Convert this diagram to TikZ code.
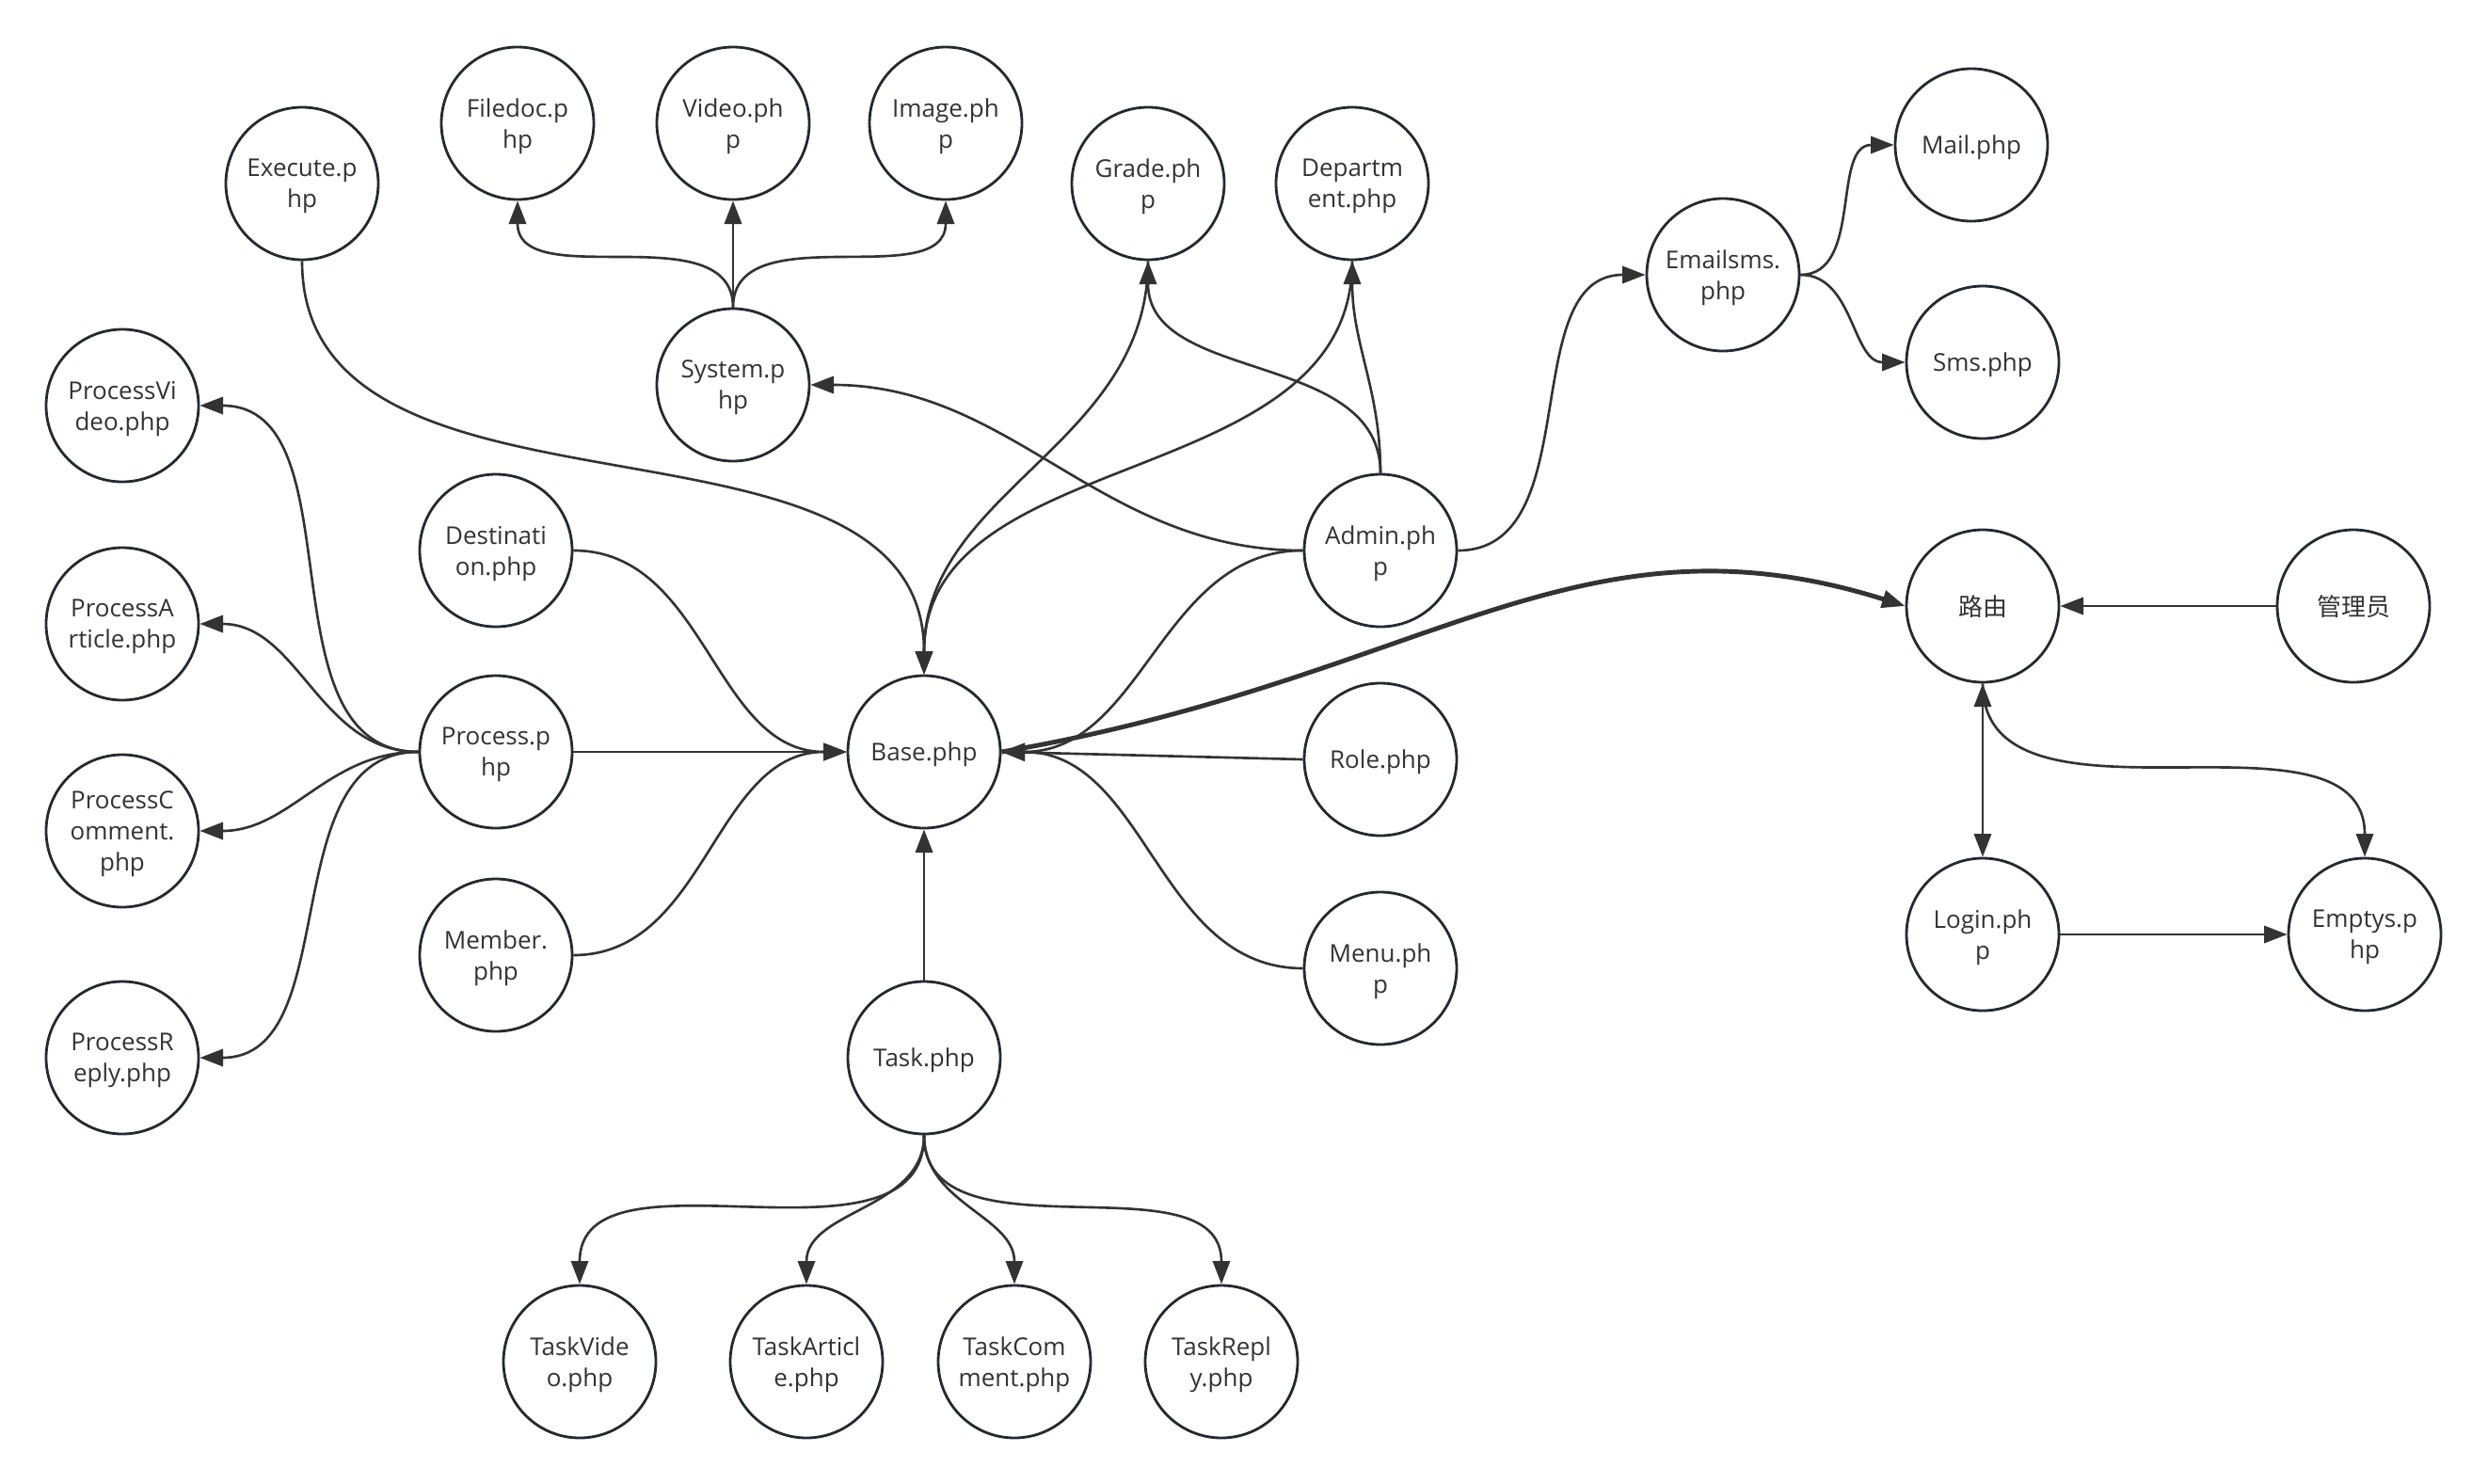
\documentclass[tikz,border=0pt]{standalone}
\usepackage{fontspec}
\setmainfont{Open Sans}
\newfontfamily\cjk{Noto Sans CJK SC}
\usepackage{tikz}
\usetikzlibrary{arrows.meta}
\definecolor{nodeline}{HTML}{232A31}
\definecolor{edgeline}{HTML}{333333}

\begin{document}
\begin{tikzpicture}[
    file/.style={draw=nodeline, line width=0.8pt, circle, minimum size=1.62cm, inner sep=0pt,
                 font=\fontsize{7.4}{9.4}\selectfont, text=edgeline, align=center,
                 text depth=-1.6pt},
    arrow/.style={-{Triangle[length=7pt, width=5.2pt]}, line width=0.75pt, draw=edgeline},
    biarrow/.style={{Triangle[length=7pt, width=5.2pt]}-{Triangle[length=7pt, width=5.2pt]},
                    line width=0.75pt, draw=edgeline},
    route/.style={arrow, line width=1.4pt}
]
\path[use as bounding box, fill=white] (0,0) rectangle (26.44,-15.76);

\node[file] (filedoc)  at (5.50,-1.31)   {Filedoc.p\\hp};
\node[file] (video)    at (7.79,-1.31)   {Video.ph\\p};
\node[file] (image)    at (10.05,-1.31)  {Image.ph\\p};
\node[file] (execute)  at (3.21,-1.95)   {Execute.p\\hp};
\node[file] (grade)    at (12.20,-1.95)  {Grade.ph\\p};
\node[file] (dept)     at (14.37,-1.95)  {Departm\\ent.php};
\node[file] (emailsms) at (18.31,-2.92)  {Emailsms.\\php};
\node[file] (mail)     at (20.95,-1.54)  {Mail.php};
\node[file] (sms)      at (21.07,-3.85)  {Sms.php};
\node[file] (system)   at (7.79,-4.09)   {System.p\\hp};
\node[file] (pvideo)   at (1.30,-4.31)   {ProcessVi\\deo.php};
\node[file] (dest)     at (5.27,-5.85)   {Destinati\\on.php};
\node[file] (admin)    at (14.67,-5.85)  {Admin.ph\\p};
\node[file] (router)   at (21.07,-6.44)  {\cjk 路由};
\node[file] (manager)  at (25.01,-6.44)  {\cjk 管理员};
\node[file] (particle) at (1.30,-6.63)   {ProcessA\\rticle.php};
\node[file] (process)  at (5.27,-7.99)   {Process.p\\hp};
\node[file] (base)     at (9.82,-7.99)   {Base.php};
\node[file] (role)     at (14.67,-8.07)  {Role.php};
\node[file] (pcomment) at (1.30,-8.83)   {ProcessC\\omment.\\php};
\node[file] (login)    at (21.07,-9.93)  {Login.ph\\p};
\node[file] (emptys)   at (25.13,-9.93)  {Emptys.p\\hp};
\node[file] (member)   at (5.27,-10.15)  {Member.\\php};
\node[file] (menu)     at (14.67,-10.29) {Menu.ph\\p};
\node[file] (task)     at (9.82,-11.24)  {Task.php};
\node[file] (preply)   at (1.30,-11.24)  {ProcessR\\eply.php};
\node[file] (tvideo)   at (6.16,-14.47)  {TaskVide\\o.php};
\node[file] (tarticle) at (8.57,-14.47)  {TaskArticl\\e.php};
\node[file] (tcomment) at (10.78,-14.47) {TaskCom\\ment.php};
\node[file] (treply)   at (12.98,-14.47) {TaskRepl\\y.php};

\draw[arrow] (system.north) to[out=90,in=-90] (filedoc.south);
\draw[arrow] (system.north) -- (video.south);
\draw[arrow] (system.north) to[out=90,in=-90] (image.south);

\draw[arrow] (execute.south) to[out=-90,in=90] (base.north);
\draw[arrow] (grade.south) to[out=-90,in=90] (base.north);
\draw[arrow] (dept.south) to[out=-90,in=90] (base.north);
\draw[arrow] (dest.east) to[out=0,in=180] (base.west);
\draw[arrow] (process.east) -- (base.west);
\draw[arrow] (member.east) to[out=0,in=180] (base.west);
\draw[arrow] (task.north) -- (base.south);
\draw[arrow] (admin.west) to[out=180,in=0] (base.east);
\draw[arrow] (role.west) -- (base.east);
\draw[arrow] (menu.west) to[out=180,in=0] (base.east);

\draw[arrow] (admin.west) to[out=180,in=0] (system.east);
\draw[arrow] (admin.north) to[out=90,in=-90] (grade.south);
\draw[arrow] (admin.north) to[out=90,in=-90] (dept.south);
\draw[arrow] (admin.east) to[out=0,in=180] (emailsms.west);
\draw[arrow] (emailsms.east) to[out=0,in=180] (mail.west);
\draw[arrow] (emailsms.east) to[out=0,in=180] (sms.west);

\draw[arrow] (process.west) to[out=180,in=0] (pvideo.east);
\draw[arrow] (process.west) to[out=180,in=0] (particle.east);
\draw[arrow] (process.west) to[out=180,in=0] (pcomment.east);
\draw[arrow] (process.west) to[out=180,in=0] (preply.east);

\draw[arrow] (task.south) to[out=-90,in=90] (tvideo.north);
\draw[arrow] (task.south) to[out=-90,in=90] (tarticle.north);
\draw[arrow] (task.south) to[out=-90,in=90] (tcomment.north);
\draw[arrow] (task.south) to[out=-90,in=90] (treply.north);

\draw[route] (base.east) .. controls +(4.5,0.77) and +(-3.5,1.1) .. (router.west);
\draw[arrow] (manager.west) -- (router.east);
\draw[biarrow] (router.south) -- (login.north);
\draw[arrow] (router.south) to[out=-90,in=90] (emptys.north);
\draw[arrow] (login.east) -- (emptys.west);
\end{tikzpicture}
\end{document}
